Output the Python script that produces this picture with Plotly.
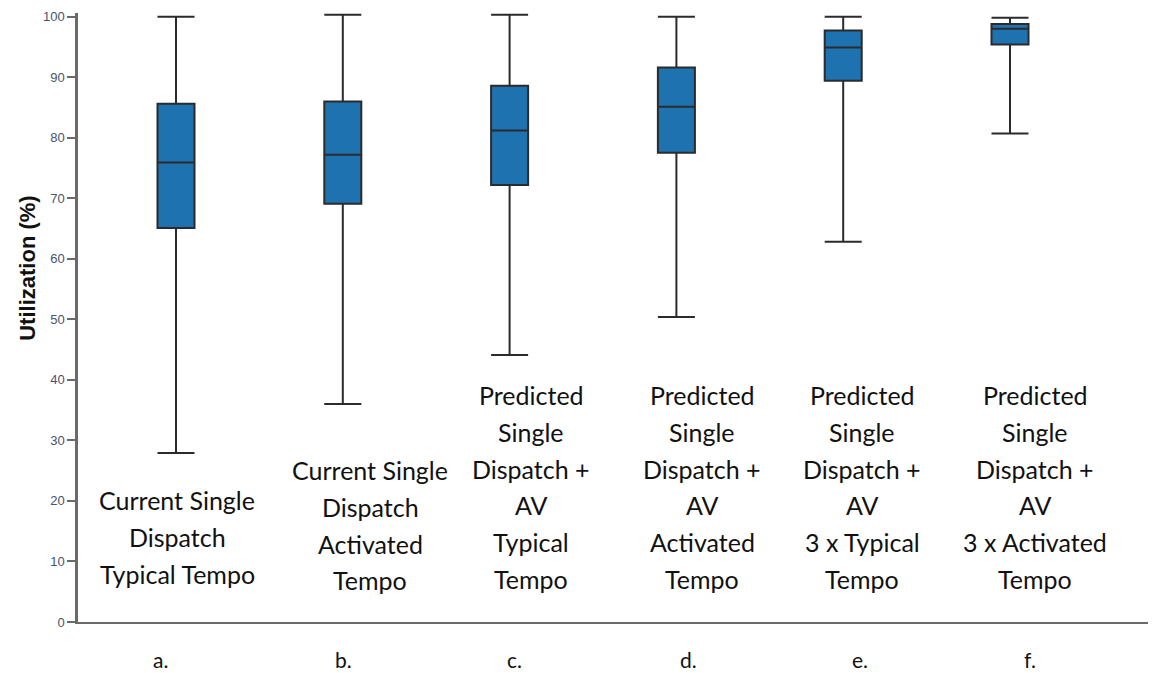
import plotly.graph_objects as go

# ---- data ----
groups = ["a.", "b.", "c.", "d.", "e.", "f."]
upper = [100.0, 100.3, 100.3, 100.0, 100.0, 99.8]
q3 = [85.6, 86.0, 88.6, 91.6, 97.7, 98.8]
median = [75.9, 77.2, 81.2, 85.1, 94.9, 98.0]
q1 = [65.1, 69.1, 72.2, 77.5, 89.4, 95.4]
lower = [27.9, 36.0, 44.1, 50.4, 62.8, 80.7]

labels = [
    ["Current Single", "Dispatch", "Typical Tempo"],
    ["Current Single", "Dispatch", "Activated", "Tempo"],
    ["Predicted", "Single", "Dispatch +", "AV", "Typical", "Tempo"],
    ["Predicted", "Single", "Dispatch +", "AV", "Activated", "Tempo"],
    ["Predicted", "Single", "Dispatch +", "AV", "3 x Typical", "Tempo"],
    ["Predicted", "Single", "Dispatch +", "AV", "3 x Activated", "Tempo"],
]
y_ticks = [0, 10, 20, 30, 40, 50, 60, 70, 80, 90, 100]

# ---- layout geometry (page pixels; page body has an 8px margin) ----
OFF = 8
PW, PH = 1156, 673
W, H = PW - OFF, PH - OFF
plot_left, plot_right, plot_top, plot_bottom = 78, PW, 13.4, 622
L = plot_left - OFF
R = PW - plot_right
T = plot_top - OFF
B = (OFF + H) - plot_bottom
ppu_x = 166.8
x0_pix = 176
x_lo = (plot_left - x0_pix) / ppu_x
x_hi = (plot_right - x0_pix) / ppu_x
ppu_y = (plot_bottom - plot_top) / 100.6
plot_h = plot_bottom - plot_top
plot_w = plot_right - plot_left


def px_to_x(p):
    return (p - x0_pix) / ppu_x


def py_to_y(p):
    return (plot_bottom - p) / ppu_y


fig = go.Figure()
for i, g in enumerate(groups):
    fig.add_trace(go.Box(
        x=[i], q1=[q1[i]], median=[median[i]], q3=[q3[i]],
        lowerfence=[lower[i]], upperfence=[upper[i]],
        width=0.222, whiskerwidth=1,
        fillcolor="#1f72b0",
        line=dict(color="#2b2b2b", width=2),
        boxpoints=False, showlegend=False, name=g,
    ))

# category text labels inside the plot
label_x_pix = [177, 370, 531, 702, 862, 1035]
label_top_pix = [500, 470, 395, 395, 395, 395]
line_gap = 36.8
annotations = []
for i, lines in enumerate(labels):
    for j, txt in enumerate(lines):
        annotations.append(dict(
            x=px_to_x(label_x_pix[i]), y=py_to_y(label_top_pix[i] + j * line_gap),
            xref="x", yref="y", text=txt, showarrow=False,
            xanchor="center", yanchor="middle",
            font=dict(family="Lato", size=25, color="#111111"),
        ))

# bottom letters
letter_x_pix = [160, 343, 514, 688, 860, 1030]
for i, g in enumerate(groups):
    annotations.append(dict(
        x=px_to_x(letter_x_pix[i]), y=(plot_bottom - 659) / plot_h,
        xref="x", yref="paper", text=g, showarrow=False,
        xanchor="center", yanchor="middle",
        font=dict(family="Lato", size=21, color="#111111"),
    ))

# y title
annotations.append(dict(
    x=(28 - plot_left) / plot_w, y=(plot_bottom - 269) / plot_h,
    xref="paper", yref="paper", text="<b>Utilization (%)</b>", showarrow=False,
    textangle=-90, xanchor="center", yanchor="middle",
    font=dict(family="Liberation Sans", size=22, color="#111111"),
))

fig.update_layout(
    width=W, height=H,
    margin=dict(l=L, r=R, t=T, b=B, pad=0),
    plot_bgcolor="white", paper_bgcolor="white",
    annotations=annotations,
    xaxis=dict(range=[x_lo, x_hi], showticklabels=False, ticks="",
               showgrid=False, zeroline=False, showline=True,
               linecolor="#6a6a6a", linewidth=2),
    yaxis=dict(range=[0, 100.6], tickvals=y_ticks, showgrid=False,
               zeroline=False, showline=True, linecolor="#6a6a6a", linewidth=2.5,
               ticks="outside", ticklen=8, tickcolor="#6a6a6a", tickwidth=1.5,
               tickfont=dict(family="Arial", size=13, color="#46546f")),
)

fig.write_html("out.html")
